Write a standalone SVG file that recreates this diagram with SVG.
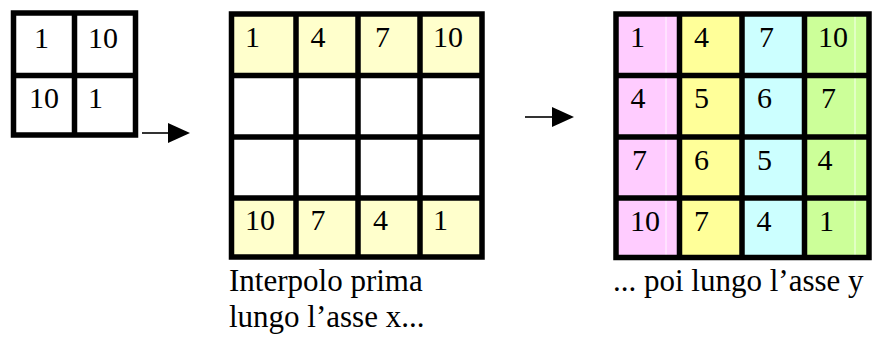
<svg xmlns="http://www.w3.org/2000/svg" width="878" height="338" viewBox="0 0 878 338">
  <style>
    .num { font-family: "Liberation Serif", "Times New Roman", serif; font-size: 30px; fill: #000; }
    .cap { font-family: "Liberation Serif", "Times New Roman", serif; font-size: 31px; fill: #000; }
    .grid { fill: none; stroke: #000; stroke-width: 5.5; stroke-linecap: square; }
    .conn { stroke: #000; stroke-width: 1.6; fill: none; }
    .sheen { stroke: #fff; stroke-width: 1; opacity: 0.85; }
  </style>
  <defs>
    <marker id="head" markerUnits="userSpaceOnUse" markerWidth="23" markerHeight="21" refX="0" refY="10" orient="auto">
      <path d="M0,0 L22,10 L0,20 Z" fill="#000"/>
    </marker>
  </defs>

  <rect width="878" height="338" fill="#fff"/>

  <!-- 2x2 source table -->
  <g id="grid-source">
    <path class="grid" d="M13.5,13 H135.5 V135 H13.5 Z M74.5,13 V135 M13.5,75.5 H135.5"/>
    <text class="num" x="34" y="48">1</text>
    <text class="num" x="88" y="48">10</text>
    <text class="num" x="29" y="108">10</text>
    <text class="num" x="88" y="108">1</text>
  </g>

  <!-- 4x4 table after interpolating along x -->
  <g id="grid-x">
    <rect x="231.5" y="14" width="250.5" height="61.5" fill="#ffffcc"/>
    <rect x="231.5" y="198" width="250.5" height="59.5" fill="#ffffcc"/>
    <path class="grid" d="M231.5,14 H482 V257 H231.5 Z M296,14 V257 M358,14 V257 M420,14 V257 M231.5,75.5 H482 M231.5,137 H482 M231.5,198 H482"/>
    <text class="num" x="245" y="47">1</text>
    <text class="num" x="310.5" y="47">4</text>
    <text class="num" x="375" y="47">7</text>
    <text class="num" x="433" y="47">10</text>
    <text class="num" x="245" y="230">10</text>
    <text class="num" x="310.5" y="230">7</text>
    <text class="num" x="373" y="230">4</text>
    <text class="num" x="433" y="230">1</text>
    <text class="cap" x="229" y="291">Interpolo prima</text>
    <text class="cap" x="229" y="327">lungo l’asse x...</text>
  </g>

  <!-- 4x4 table after interpolating along y -->
  <g id="grid-y">
    <rect x="616" y="14" width="63.5" height="243.5" fill="#ffccff"/>
    <rect x="679.5" y="14" width="62.5" height="243.5" fill="#ffff99"/>
    <rect x="742" y="14" width="62.5" height="243.5" fill="#ccffff"/>
    <rect x="804.5" y="14" width="64.5" height="243.5" fill="#ccff99"/>
    <line class="sheen" x1="666" y1="16" x2="666" y2="256"/>
    <line class="sheen" x1="855" y1="16" x2="855" y2="256"/>
    <path class="grid" d="M616,14 H869 V257.5 H616 Z M679.5,14 V257.5 M742,14 V257.5 M804.5,14 V257.5 M616,75.5 H869 M616,137 H869 M616,198 H869"/>
    <text class="num" x="630" y="47">1</text>
    <text class="num" x="694" y="47">4</text>
    <text class="num" x="759" y="47">7</text>
    <text class="num" x="818" y="47">10</text>
    <text class="num" x="630.5" y="108">4</text>
    <text class="num" x="694" y="108">5</text>
    <text class="num" x="757" y="108">6</text>
    <text class="num" x="821" y="108">7</text>
    <text class="num" x="632" y="170">7</text>
    <text class="num" x="694" y="170">6</text>
    <text class="num" x="757" y="170">5</text>
    <text class="num" x="817.5" y="170">4</text>
    <text class="num" x="630" y="231">10</text>
    <text class="num" x="694" y="231">7</text>
    <text class="num" x="756.5" y="231">4</text>
    <text class="num" x="819" y="231">1</text>
    <text class="cap" x="613" y="291">... poi lungo l’asse y</text>
  </g>

  <!-- arrows between the tables -->
  <g id="connectors">
    <line class="conn" x1="142" y1="133" x2="168" y2="133" marker-end="url(#head)"/>
    <line class="conn" x1="525" y1="117" x2="552" y2="117" marker-end="url(#head)"/>
  </g>
</svg>
